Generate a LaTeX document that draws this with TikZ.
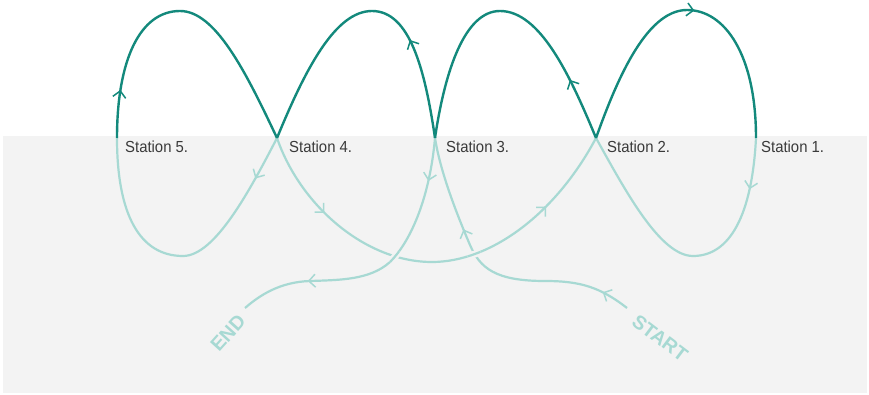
\documentclass[tikz,border=0pt]{standalone}
\usepackage{fontspec}
\setmainfont{Liberation Sans}
\newfontfamily\stfont[FakeStretch=0.93]{Liberation Sans}
\newfontfamily\sefont{Liberation Sans Bold}
\usetikzlibrary{arrows.meta,decorations.markings}
\definecolor{darkteal}{HTML}{13897C}
\definecolor{lightteal}{HTML}{A7D9D3}
\definecolor{bggrey}{HTML}{F3F3F3}
\definecolor{labelgrey}{HTML}{3A3A3A}
\tikzset{
  dark/.style={draw=darkteal, line width=2.4pt},
  light/.style={draw=lightteal, line width=2.2pt},
  halo/.style={draw=bggrey, line width=7pt},
  arr/.style={postaction={decorate,decoration={markings,mark=at position #1 with {\arrow{Straight Barb[length=6.5pt,width=13pt,line width=1.5pt]}}}}},
  stlabel/.style={inner sep=0pt, anchor=base west, text=labelgrey, font=\stfont\fontsize{16}{18}\selectfont},
  selabel/.style={inner sep=0pt, text=lightteal, font=\sefont\fontsize{19.5}{22}\selectfont}
}
\begin{document}
\begin{tikzpicture}[x=1pt,y=-1pt]
\useasboundingbox (0,0) rectangle (869,395);
\fill[white] (0,0) rectangle (869,395);
\fill[bggrey] (3,136) rectangle (867,393);

% stations
\coordinate (s5) at (117,138);
\coordinate (s4) at (277,138);
\coordinate (s3) at (435,138);
\coordinate (s2) at (596,138);
\coordinate (s1) at (756,138);
\coordinate (st) at (627,308);
\coordinate (en) at (245,308);

% labels
\node[stlabel] (l5) at (125,153) {Station 5.};
\node[stlabel] (l4) at (289,153) {Station 4.};
\node[stlabel] (l3) at (446,153) {Station 3.};
\node[stlabel] (l2) at (607,153) {Station 2.};
\node[stlabel] (l1) at (761,153) {Station 1.};
\node[selabel, rotate=-37] (start) at (660,338) {START};
\node[selabel, rotate=48] (end) at (228,333) {END};

% light paths
\def\pathLfour{(st) .. controls (600,287) and (580,281) .. (545,281) .. controls (495,281) and (480,268) .. (470,245) .. controls (455,210) and (440,170) .. (s3)}
\def\pathLthree{(s4) .. controls (300,205) and (365,262) .. (432,262) .. controls (490,262) and (555,215) .. (s2)}
\def\pathLfive{(s3) .. controls (430,195) and (412,240) .. (390,262) .. controls (370,280) and (340,280) .. (310,281) .. controls (280,282) and (260,295) .. (en)}

\draw[light, arr=.1, arr=.67] \pathLfour;
\draw[light, arr=.21, arr=.8] \pathLthree;
\draw[light, arr=.15, arr=.76] \pathLfive;
\begin{scope}
  \clip (474,254) circle (7);
  \draw[halo] \pathLthree;
  \draw[light] \pathLthree;
\end{scope}
\begin{scope}
  \clip (395,257) circle (7);
  \draw[halo] \pathLfive;
  \draw[light] \pathLfive;
\end{scope}

\draw[light, arr=.15] (s4) .. controls (250,190) and (215,256) .. (183,256) .. controls (140,256) and (117,215) .. (s5);
\draw[light, arr=.17] (s1) .. controls (752,215) and (730,256) .. (693,256) .. controls (660,256) and (625,190) .. (s2);

% dark arches
\draw[dark, arr=.15] (s5) .. controls (117,60) and (140,11) .. (180,11) .. controls (215,11) and (245,70) .. (s4);
\draw[dark, arr=.32] (s3) .. controls (425,70) and (410,11) .. (372,11) .. controls (335,11) and (305,70) .. (s4);
\draw[dark, arr=.2] (s2) .. controls (570,75) and (540,11) .. (500,11) .. controls (465,11) and (445,70) .. (s3);
\draw[dark, arr=.53] (s2) .. controls (615,85) and (645,10) .. (687,10) .. controls (725,10) and (756,55) .. (s1);
\end{tikzpicture}
\end{document}
